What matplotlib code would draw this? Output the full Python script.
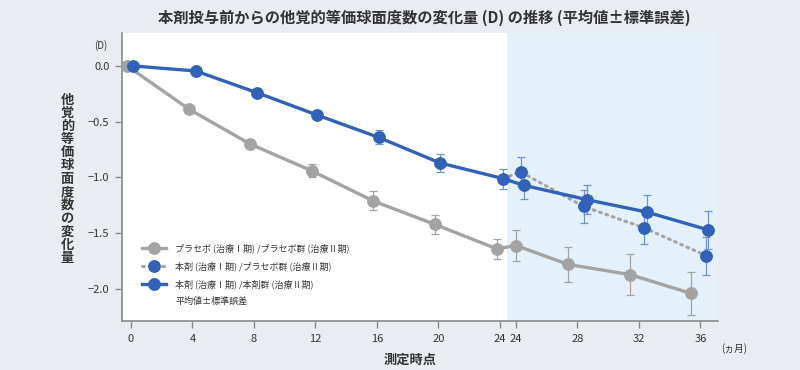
import numpy as np
import matplotlib
matplotlib.use('Agg')
import matplotlib.pyplot as plt
from matplotlib.lines import Line2D

plt.rcParams['font.family'] = ['Noto Sans CJK JP', 'DejaVu Sans']

# ── データ ─────────────────────────────────────────────
GAP = 1.04  # 治療I期と治療II期の間の横軸のずれ (月)

# 治療I期 (0〜24ヵ月)
x_gray_1 = [-0.25, 3.8, 7.75, 11.75, 15.75, 19.75, 23.8]
y_gray_1 = [0.0, -0.39, -0.70, -0.94, -1.21, -1.42, -1.64]
e_gray_1 = [0.0, 0.02, 0.03, 0.06, 0.085, 0.087, 0.09]

x_blue_1 = [0.15, 4.2, 8.2, 12.1, 16.1, 20.1, 24.2]
y_blue_1 = [0.0, -0.045, -0.24, -0.44, -0.64, -0.87, -1.01]
e_blue_1 = [0.0, 0.02, 0.03, 0.04, 0.063, 0.08, 0.09]

# 治療II期 (24〜36ヵ月)
x_gray_2 = [24.0, 27.4, 31.4, 35.4]
y_gray_2 = [-1.61, -1.78, -1.87, -2.04]
e_gray_2 = [0.14, 0.16, 0.18, 0.19]

x_solid_2 = [24.5, 28.65, 32.5, 36.5]
y_solid_2 = [-1.07, -1.20, -1.31, -1.47]
e_solid_2 = [0.12, 0.13, 0.15, 0.17]

x_dot_2 = [24.3, 28.4, 32.3, 36.35]
y_dot_2 = [-0.95, -1.26, -1.45, -1.70]
e_dot_2 = [0.13, 0.15, 0.15, 0.17]

ticks_1 = [0, 4, 8, 12, 16, 20, 24]
ticks_2 = [24, 28, 32, 36]
y_ticks = [0.0, -0.5, -1.0, -1.5, -2.0]

labels = ['プラセボ (治療Ⅰ期) /プラセボ群 (治療Ⅱ期)',
          '本剤 (治療Ⅰ期) /プラセボ群 (治療Ⅱ期)',
          '本剤 (治療Ⅰ期) /本剤群 (治療Ⅱ期)',
          '平均値±標準誤差']

# ── スタイル ───────────────────────────────────────────
BG = '#e9ecf0'; SHADE = '#e5f1fa'
BLUE = '#2f62b8'; BLUE_E = '#6f93cf'
GRAY = '#a3a3a3'; AXC = '#8a8a8a'; TXT = '#333333'

fig = plt.figure(figsize=(8, 3.7), dpi=100, facecolor=BG)
ax = fig.add_axes([0.1525, 0.1324, 0.745, 0.7786])
ax.set_facecolor('white')

ax.set_xlim(-0.585, 38.18)
ax.set_ylim(-2.287, 0.296)
ax.axvspan(24.46, 38.18, color=SHADE, lw=0, zorder=0)

xg2 = np.array(x_gray_2) + GAP
xs2 = np.array(x_solid_2) + GAP
xd2 = np.array(x_dot_2) + GAP

ms = 8.2
# プラセボ
ax.plot(x_gray_1 + list(xg2), y_gray_1 + y_gray_2, color=GRAY, lw=2.4,
        marker='o', ms=ms, zorder=3)
ax.errorbar(x_gray_1 + list(xg2), y_gray_1 + y_gray_2, yerr=e_gray_1 + e_gray_2,
            fmt='none', ecolor=GRAY, elinewidth=0.9, capsize=3, capthick=0.9, zorder=2)

# 本剤/プラセボ群 (点線)
ax.plot([x_blue_1[-1]] + list(xd2), [y_blue_1[-1]] + y_dot_2, color=GRAY, lw=2.2,
        ls=(0, (0.6, 1.6)), dash_capstyle='round', zorder=3)
ax.plot(xd2, y_dot_2, ls='none', marker='o', ms=ms, color=BLUE, zorder=4)
ax.errorbar(xd2, y_dot_2, yerr=e_dot_2, fmt='none', ecolor=BLUE_E,
            elinewidth=0.9, capsize=3, capthick=0.9, zorder=2)

# 本剤/本剤群
ax.plot(x_blue_1 + list(xs2), y_blue_1 + y_solid_2, color=BLUE, lw=2.4,
        marker='o', ms=ms, zorder=5)
ax.errorbar(x_blue_1 + list(xs2), y_blue_1 + y_solid_2, yerr=e_blue_1 + e_solid_2,
            fmt='none', ecolor=BLUE_E, elinewidth=0.9, capsize=3, capthick=0.9, zorder=2)

# ── 軸 ────────────────────────────────────────────────
for s in ['top', 'right']:
    ax.spines[s].set_visible(False)
for s in ['left', 'bottom']:
    ax.spines[s].set_color(AXC)
    ax.spines[s].set_linewidth(1.2)

ax.set_xticks(ticks_1 + [t + GAP for t in ticks_2])
ax.set_xticklabels([str(t) for t in ticks_1 + ticks_2])
ax.set_yticks(y_ticks)
ax.set_yticklabels([f'{v:.1f}'.replace('-', '\u2212') for v in y_ticks])
ax.tick_params(colors=AXC, labelcolor=TXT, labelsize=8, length=5, width=1, pad=4)

ax.text(-0.025, 0.955, '(D)', transform=ax.transAxes, ha='right', va='center',
        fontsize=7, color=TXT)
ax.text(1.005, -0.095, '(ヵ月)', transform=ax.transAxes, ha='left', va='center',
        fontsize=7, color=TXT)

fig.text(0.5125, 0.027, '測定時点', ha='center', va='center',
         fontsize=9.5, fontweight='bold', color=TXT)
fig.text(0.084, 0.517, '\n'.join('他覚的等価球面度数の変化量'), ha='center',
         va='center', fontsize=9.5, fontweight='bold', color=TXT, linespacing=0.93)
fig.text(0.53, 0.951, '本剤投与前からの他覚的等価球面度数の変化量 (D) の推移 (平均値±標準誤差)',
         ha='center', va='center', fontsize=11, fontweight='bold', color=TXT)

# ── 凡例 ──────────────────────────────────────────────
h1 = Line2D([], [], color=GRAY, lw=2.4, marker='o', ms=ms)
h2 = Line2D([], [], color=GRAY, lw=2.2, ls=(0, (0.6, 1.6)), marker='o', ms=ms,
            markerfacecolor=BLUE, markeredgecolor=BLUE, dash_capstyle='round')
h3 = Line2D([], [], color=BLUE, lw=2.4, marker='o', ms=ms)
h4 = Line2D([], [], color='none')
leg = ax.legend([h1, h2, h3, h4], labels, loc='lower left',
                bbox_to_anchor=(0.02, 0.025), frameon=False, fontsize=6.5,
                handlelength=2.7, handletextpad=1.0, labelspacing=0.85)
for t in leg.get_texts():
    t.set_color(TXT)

fig.savefig('out.png', dpi=100, facecolor=BG)
